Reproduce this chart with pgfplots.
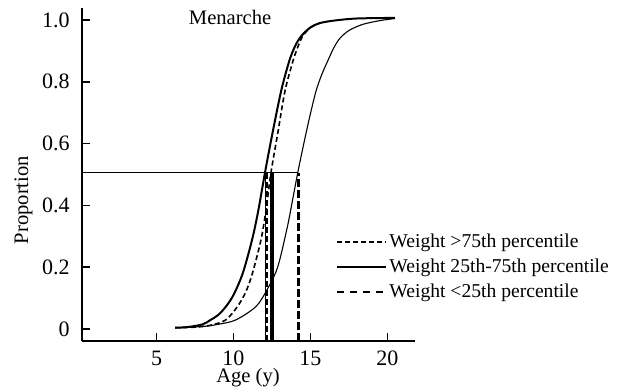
\documentclass[border=0pt]{standalone}
\usepackage{fontspec}
\setmainfont{Liberation Serif}
\usepackage{pgfplots}
\pgfplotsset{compat=1.18}
\begin{document}
\begin{tikzpicture}
\begin{axis}[
  name=ax, at={(0,0)}, anchor=south west,
  scale only axis, width=166.5pt, height=166.5pt,
  xmin=0.15, xmax=21.8, ymin=-0.039, ymax=1.039,
  axis lines=left, axis line style={-, line width=0.8pt},
  tick align=inside, major tick length=4pt, tick style={line width=0.8pt, black},
  xtick={5,10,15,20}, ytick={0,0.2,0.4,0.6,0.8,1.0},
  yticklabels={0,0.2,0.4,0.6,0.8,1.0},
  /pgf/number format/assume math mode=true,
  tick label style={font=\fontsize{11}{13}\selectfont},
  xticklabel style={anchor=base, yshift=-12pt},
  yticklabel style={anchor=east, inner sep=0pt, xshift=-6pt},
  xlabel={Age (y)}, ylabel={Proportion},
  label style={font=\fontsize{10.3}{12}\selectfont},
  xlabel style={at={(axis description cs:0.4985,0)}, anchor=center, yshift=-18.5pt},
  ylabel style={at={(axis description cs:-0.1757,0.423)}, anchor=center},
  clip=false,
  legend style={draw=none, fill=none, at={(axis description cs:0.763,0.222)}, anchor=west,
    font=\fontsize{9.8}{11}\selectfont, inner sep=0pt, row sep=2.2pt,
    nodes={inner sep=1pt}, cells={anchor=west}},
  legend cell align=left,
  legend image code/.code={\draw[#1] (0pt,0pt) -- (24.5pt,0pt);},
]
% legend entries
\addlegendimage{black, line width=0.8pt, dash pattern=on 2.5pt off 1.5pt}
\addlegendentry{Weight >75th percentile}
\addlegendimage{black, line width=1pt}
\addlegendentry{Weight 25th-75th percentile}
\addlegendimage{black, line width=0.8pt, dash pattern=on 3.5pt off 3pt}
\addlegendentry{Weight <25th percentile}

% horizontal reference line
\addplot[forget plot, black, line width=0.5pt] coordinates {(0.15,0.505) (14.2,0.505)};
% vertical median lines
\addplot[forget plot, black, line width=0.5pt] coordinates {(12.06,-0.039) (12.06,0.505)};
\addplot[forget plot, black, line width=1.1pt, dash pattern=on 3pt off 1.5pt] coordinates {(12.14,-0.039) (12.14,0.505)};
\addplot[forget plot, black, line width=1.6pt] coordinates {(12.5,-0.039) (12.5,0.505)};
\addplot[forget plot, black, line width=1.5pt, dash pattern=on 4pt off 1.5pt] coordinates {(14.2,-0.039) (14.2,0.505)};

% curve: weight 25th-75th (solid)
\addplot[forget plot, black, line width=1pt, smooth] coordinates {
(6.2,0.004) (7.0,0.006) (8.0,0.015) (8.5,0.029) (9.0,0.045) (9.5,0.072)
(10.0,0.11) (10.6,0.18) (11.2,0.287) (11.6,0.38) (12.04,0.504) (12.5,0.625)
(13.1,0.771) (13.63,0.868) (14.0,0.915) (14.4,0.948) (15.0,0.976) (15.6,0.99) (16.5,0.998) (18.0,1.005) (20.5,1.007)};
% curve: weight >75th (dotted)
\addplot[forget plot, black, line width=0.8pt, dash pattern=on 2.5pt off 1.5pt, smooth] coordinates {
(6.2,0.004) (7.5,0.006) (8.5,0.012) (9.49,0.029) (10.25,0.072) (10.8,0.12)
(11.23,0.18) (11.78,0.287) (12.1,0.38) (12.43,0.504) (12.9,0.64) (13.35,0.771)
(13.87,0.868) (14.2,0.915) (14.5,0.948) (15.0,0.976) (15.6,0.99)};
% curve: weight <25th (thin)
\addplot[forget plot, black, line width=0.55pt, smooth] coordinates {
(6.2,0.004) (8.0,0.008) (9.0,0.015) (10.14,0.029) (11.45,0.072) (12.17,0.126)
(12.87,0.20) (13.5,0.33) (13.85,0.42) (14.17,0.504) (14.57,0.6) (14.97,0.69) (15.37,0.771)
(15.75,0.825) (16.13,0.868) (16.5,0.908) (16.9,0.940) (17.5,0.966) (18.4,0.986) (19.5,0.998) (20.5,1.005)};

\node[font=\fontsize{10.3}{12}\selectfont] at (axis cs:9.78,1.01) {Menarche};
\end{axis}
\pgfresetboundingbox
\path[use as bounding box] (-41pt,-23.5pt) rectangle (270.5pt,170.5pt);
\end{tikzpicture}
\end{document}
